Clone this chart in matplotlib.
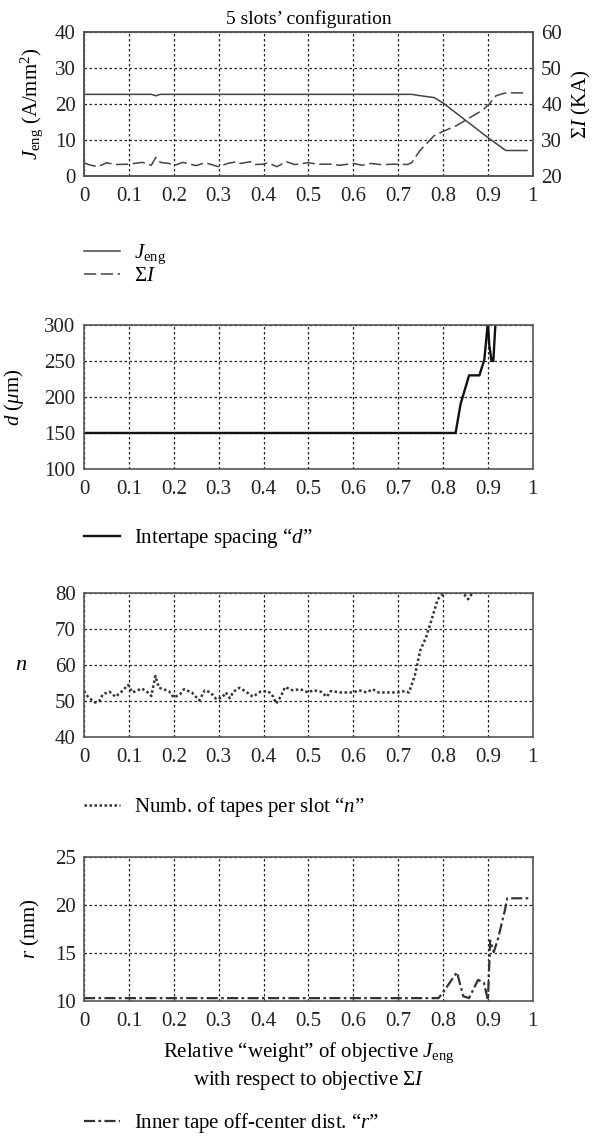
import numpy as np
import matplotlib
matplotlib.use("Agg")
import matplotlib.pyplot as plt
from matplotlib.ticker import MultipleLocator, FuncFormatter

plt.rcParams['font.family'] = ['Liberation Serif', 'DejaVu Serif']
plt.rcParams['mathtext.fontset'] = 'custom'
plt.rcParams['mathtext.rm'] = 'Liberation Serif'
plt.rcParams['mathtext.it'] = 'Liberation Serif:italic'
plt.rcParams['font.size'] = 15

# Panel 1: J_eng (left axis) and sum of currents (right axis)
x_j = [0, 0.15, 0.16, 0.17, 0.73, 0.745, 0.78, 0.8, 0.848, 0.903, 0.94, 0.987]
j_eng = [22.7, 22.7, 22.3, 22.7, 22.7, 22.4, 21.8, 20.3, 15.7, 10.4, 7.1, 7.1]

x_i = [0, 0.01, 0.02, 0.03, 0.04, 0.05, 0.07, 0.1, 0.13, 0.15, 0.16, 0.17,
       0.19, 0.2, 0.22, 0.24, 0.25, 0.27, 0.3, 0.32, 0.34, 0.35, 0.37, 0.38,
       0.4, 0.41, 0.43, 0.45, 0.47, 0.5, 0.52, 0.55, 0.57, 0.6, 0.62, 0.64,
       0.66, 0.7, 0.72, 0.73, 0.748, 0.78, 0.8, 0.83, 0.888, 0.903, 0.918,
       0.936, 0.95, 0.985]
sum_i = [23.7, 23.2, 22.9, 22.6, 23.1, 23.7, 23.2, 23.3, 23.8, 23.0, 25.2, 23.8,
         23.5, 22.9, 23.8, 23.2, 22.9, 23.7, 22.6, 23.5, 24.0, 23.5, 24.0, 23.2,
         23.3, 23.7, 22.6, 24.0, 23.2, 23.7, 23.3, 23.3, 23.0, 23.5, 23.0, 23.5,
         23.2, 23.3, 23.2, 23.7, 27.0, 31.2, 32.4, 34.0, 38.3, 40.0, 42.3,
         43.0, 43.1, 43.1]

# Panel 2: intertape spacing d
x_d = [0, 0.828, 0.839, 0.858, 0.881, 0.892, 0.9, 0.903, 0.908, 0.912, 0.917]
d_um = [150, 150, 190, 230, 230, 252, 304, 272, 250, 250, 304]

# Panel 3: number of tapes per slot n
x_n = [0, 0.01, 0.025, 0.034, 0.042, 0.057, 0.07, 0.082, 0.098, 0.108, 0.129,
       0.142, 0.15, 0.159, 0.167, 0.189, 0.2, 0.214, 0.223, 0.24, 0.257, 0.269,
       0.282, 0.295, 0.308, 0.316, 0.325, 0.333, 0.346, 0.359, 0.376, 0.393,
       0.41, 0.422, 0.428, 0.439, 0.448, 0.465, 0.482, 0.499, 0.511, 0.528,
       0.541, 0.55, 0.571, 0.6, 0.613, 0.63, 0.643, 0.656, 0.698, 0.715, 0.724,
       0.737, 0.749, 0.762, 0.775, 0.788, 0.8, 0.817, 0.843, 0.856, 0.868, 0.875]
n_tapes = [52.8, 51.0, 49.6, 50.0, 51.9, 52.6, 51.2, 52.4, 54.5, 52.4, 53.5,
           52.4, 51.4, 57.0, 53.7, 52.8, 51.0, 51.9, 53.3, 52.4, 50.2, 53.0,
           52.4, 50.5, 51.0, 52.4, 50.8, 52.6, 53.7, 52.8, 51.2, 52.6,
           52.8, 51.2, 49.3, 51.4, 53.9, 53.0, 53.3, 52.4, 53.0, 52.6,
           51.2, 52.8, 52.4, 52.4, 53.0, 52.4, 53.3, 52.4, 52.4, 52.8, 52.4,
           57.0, 64.0, 67.7, 72.8, 78.3, 79.7, 80.5, 80.2, 78.3, 80.5, 82.0]

# Panel 4: inner tape off-center distance r
x_r = [0, 0.79, 0.8, 0.831, 0.845, 0.858, 0.878, 0.891, 0.9, 0.905, 0.913,
       0.922, 0.939, 0.943, 0.99]
r_mm = [10.3, 10.3, 10.9, 13.0, 10.5, 10.3, 12.2, 11.9, 10.1, 16.3, 15.1,
        16.4, 19.7, 20.7, 20.7]

fig = plt.figure(figsize=(6, 11.41), dpi=100)

grid_kw = dict(color='#222222', linestyle=(0, (2, 2)), linewidth=0.9)
spine_col = '#555555'
FS = 15


def fmt(v, pos):
    return '%g' % round(v, 1)


def style(ax, ylim, ystep):
    ax.set_xlim(0, 1)
    ax.set_ylim(*ylim)
    ax.xaxis.set_major_locator(MultipleLocator(0.1))
    ax.xaxis.set_major_formatter(FuncFormatter(fmt))
    ax.yaxis.set_major_locator(MultipleLocator(ystep))
    ax.grid(True, **grid_kw)
    ax.tick_params(length=0, colors='#222222', labelsize=FS)
    ax.tick_params(axis='x', pad=8)
    ax.tick_params(axis='y', pad=6)
    for s in ax.spines.values():
        s.set_color(spine_col)
        s.set_linewidth(1.2)


def add_legend(ax, handles, ypix, spacing=0.1):
    ax.legend(handles=handles, loc='upper left',
              bbox_to_anchor=(L, 1 - ypix / 1141),
              bbox_transform=fig.transFigure, frameon=False, borderpad=0,
              borderaxespad=0, handlelength=1.75, handletextpad=0.65,
              labelspacing=spacing, fontsize=FS)


L, W, H = 0.14, 0.748, 0.1262

# Panel 1
ax1 = fig.add_axes([L, 0.8457, W, H])
style(ax1, (0, 40), 10)
l1, = ax1.plot(x_j, j_eng, color='#444444', lw=1.1, label=r'$J_{\mathrm{eng}}$')
ax1b = ax1.twinx()
ax1b.set_ylim(20, 60)
ax1b.yaxis.set_major_locator(MultipleLocator(10))
ax1b.tick_params(length=0, colors='#222222', labelsize=FS, pad=6)
for s in ax1b.spines.values():
    s.set_color(spine_col)
    s.set_linewidth(1.2)
l2, = ax1b.plot(x_i, sum_i, color='#444444', lw=1.1, linestyle=(0, (8, 3)),
                label=r'$\Sigma I$')
ax1.set_title('5 slots\u2019 configuration', fontsize=14, pad=6)
ax1.set_ylabel(r'$J_{\mathrm{eng}}$ (A/mm$^2$)', fontsize=FS, labelpad=7)
ax1b.set_ylabel(r'$\Sigma I$ (KA)', fontsize=FS, labelpad=6)
add_legend(ax1, [l1, l2], 243, spacing=0.0)

# Panel 2
ax2 = fig.add_axes([L, 0.589, W, H])
style(ax2, (100, 300), 50)
l3, = ax2.plot(x_d, d_um, color='#111111', lw=1.7,
               label='Intertape spacing \u201c$d$\u201d')
ax2.set_ylabel(r'$d$ ($\mu$m)', fontsize=FS, labelpad=13)
add_legend(ax2, [l3], 526)

# Panel 3
ax3 = fig.add_axes([L, 0.354, W, H])
style(ax3, (40, 80), 10)
l4, = ax3.plot(x_n, n_tapes, color='#333333', lw=1.8, linestyle=(0, (1, 1)),
               label='Numb. of tapes per slot \u201c$n$\u201d')
ax3.set_ylabel(r'$n$', fontsize=16, rotation=0, labelpad=24, va='center')
add_legend(ax3, [l4], 795)

# Panel 4
ax4 = fig.add_axes([L, 0.1227, W, H])
style(ax4, (10, 25), 5)
l5, = ax4.plot(x_r, r_mm, color='#333333', lw=1.6,
               linestyle=(0, (5, 1.5, 1.2, 1.5)),
               label='Inner tape off-center dist. \u201c$r$\u201d')
ax4.set_ylabel(r'$r$ (mm)', fontsize=FS, labelpad=9)
ax4.set_xlabel('Relative \u201cweight\u201d of objective $J_{\\mathrm{eng}}$\n'
               'with respect to objective $\\Sigma I$', fontsize=FS,
               labelpad=7, linespacing=1.2)
add_legend(ax4, [l5], 1111)

fig.savefig('out.png', dpi=100)
